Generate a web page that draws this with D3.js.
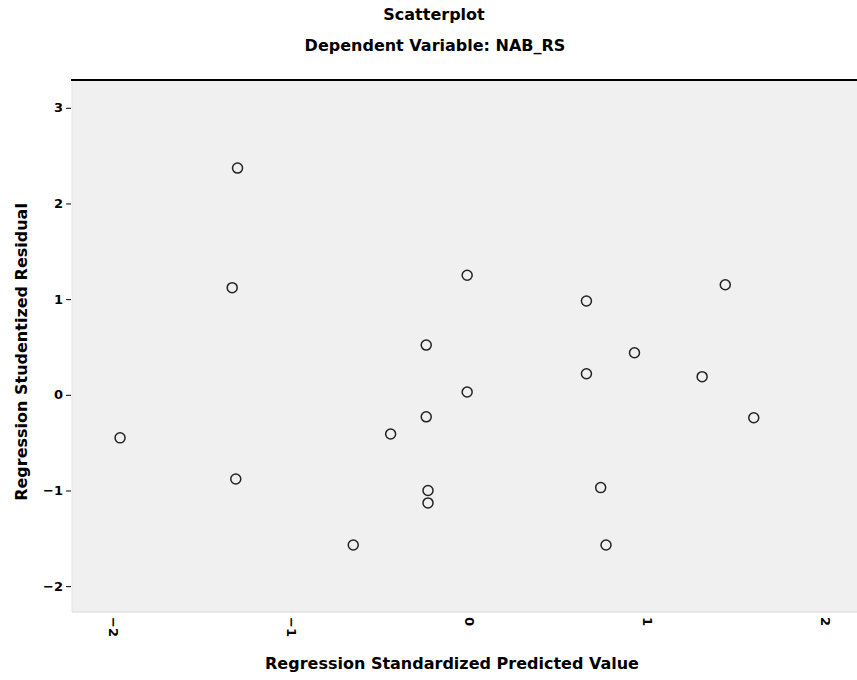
<!DOCTYPE html>
<html>
<head>
<meta charset="utf-8">
<script src="https://cdn.jsdelivr.net/npm/d3@7"></script>
<style>
body { margin: 0; background: #fff; }
text { font-family: "DejaVu Sans", "Liberation Sans", sans-serif; fill: #000; }
</style>
</head>
<body>
<div class="container"></div>
<script>
// standardized predicted value vs studentized residual
var predicted = [-1.30, -1.33, -0.01, 0.66, 1.44, -0.24, 0.93, 0.66, 1.31, -0.01,
	-0.24, 1.60, -0.44, -1.96, -1.31, -0.23, -0.23, 0.74, -0.65, 0.77];
var residual = [2.37, 1.12, 1.25, 0.98, 1.15, 0.52, 0.44, 0.22, 0.19, 0.03,
	-0.23, -0.24, -0.41, -0.45, -0.88, -1.00, -1.13, -0.97, -1.57, -1.57];
var xTicks = [-2, -1, 0, 1, 2];
var yTicks = [-2, -1, 0, 1, 2, 3];

const WIDTH = 857;
const HEIGHT = 680;
const LEFT = 72, RIGHT = 857, TOP = 81, BOTTOM = 612;

var svg = d3.select('.container').append('svg')
	.attr('width', WIDTH)
	.attr('height', HEIGHT);

var xScale = d3.scaleLinear().domain([-2.23, 2.18]).range([LEFT, RIGHT]);
var yScale = d3.scaleLinear().domain([-2.27, 3.28]).range([BOTTOM, TOP]);

svg.append('rect')
	.attr('x', LEFT).attr('y', TOP)
	.attr('width', RIGHT - LEFT).attr('height', BOTTOM - TOP)
	.attr('fill', '#f0f0f0');
svg.append('line')
	.attr('x1', LEFT).attr('x2', RIGHT).attr('y1', BOTTOM).attr('y2', BOTTOM)
	.attr('stroke', '#d8d8d8');
svg.append('line')
	.attr('x1', LEFT).attr('x2', LEFT).attr('y1', TOP).attr('y2', BOTTOM)
	.attr('stroke', '#e4e4e4');
svg.append('line')
	.attr('x1', LEFT - 1).attr('x2', RIGHT).attr('y1', TOP - 1).attr('y2', TOP - 1)
	.attr('stroke', '#000').attr('stroke-width', 2);

var yAxis = d3.axisLeft(yScale).tickValues(yTicks).tickSize(5).tickPadding(3)
	.tickFormat(d3.format('d'));
var gy = svg.append('g')
	.attr('transform', 'translate(' + (LEFT - 1) + ',0)')
	.call(yAxis);
gy.select('.domain').remove();
gy.selectAll('text').style('font-size', '13px').style('font-weight', 'bold')
	.style('font-family', '"DejaVu Sans", sans-serif');

var xAxis = d3.axisBottom(xScale).tickValues(xTicks).tickSize(0)
	.tickFormat(d3.format('d'));
var gx = svg.append('g')
	.attr('transform', 'translate(0,' + (BOTTOM + 5) + ')')
	.call(xAxis);
gx.select('.domain').remove();
gx.selectAll('text')
	.style('font-size', '13px').style('font-weight', 'bold')
	.style('font-family', '"DejaVu Sans", sans-serif')
	.attr('y', 0).attr('dy', '0.35em')
	.attr('text-anchor', 'start')
	.attr('transform', 'rotate(90)');

svg.append('g').selectAll('circle').data(predicted)
	.enter().append('circle')
	.attr('cx', function(d){ return xScale(d); })
	.attr('cy', function(d, i){ return yScale(residual[i]); })
	.attr('r', 5)
	.attr('fill', 'none')
	.attr('stroke', '#222')
	.attr('stroke-width', 1.5);

svg.append('text').attr('x', 434).attr('y', 20)
	.attr('text-anchor', 'middle').style('font-size', '16px').style('font-weight', 'bold')
	.text('Scatterplot');
svg.append('text').attr('x', 435).attr('y', 51)
	.attr('text-anchor', 'middle').style('font-size', '16px').style('font-weight', 'bold')
	.text('Dependent Variable: NAB_RS');
svg.append('text').attr('x', 452).attr('y', 669)
	.attr('text-anchor', 'middle').style('font-size', '16px').style('font-weight', 'bold')
	.text('Regression Standardized Predicted Value');
svg.append('text')
	.attr('transform', 'translate(27,' + 352 + ') rotate(-90)')
	.attr('text-anchor', 'middle').style('font-size', '16px').style('font-weight', 'bold')
	.text('Regression Studentized Residual');
</script>
</body>
</html>
